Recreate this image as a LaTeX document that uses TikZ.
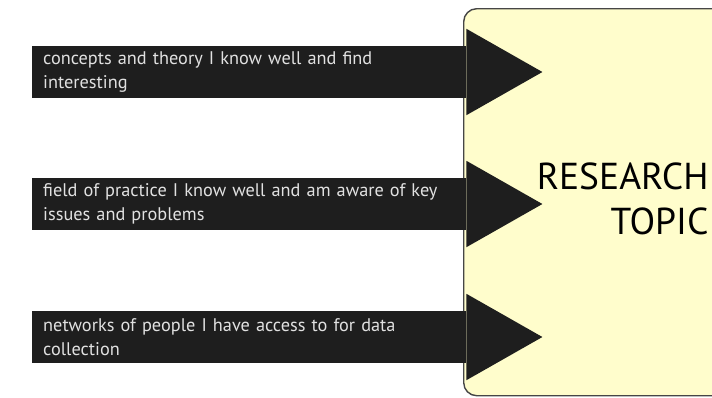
\documentclass[tikz,border=0pt]{standalone}
\usepackage{fontspec}
\setmainfont{PT Sans}
\usetikzlibrary{calc}
\definecolor{arrowgray}{RGB}{30,30,30}
\definecolor{labelgray}{RGB}{225,225,225}
\definecolor{topicfill}{RGB}{255,253,204}
\definecolor{topicline}{RGB}{70,70,70}
\begin{document}
\begin{tikzpicture}[x=1pt, y=1pt, line join = round]
\tikzset{
  sourcebox/.style = {fill=arrowgray, text=labelgray, anchor=west, align=left,
    text width=412pt, inner xsep=11pt, inner ysep=0pt, minimum height=52pt,
    font=\fontsize{18.3}{24.5}\selectfont},
  topicbox/.style  = {draw=topicline, fill=topicfill, line width=1.4pt,
    rounded corners=13pt, anchor=north west, minimum width=300pt,
    minimum height=387pt},
}
\useasboundingbox (0,0) rectangle (712,-397);

\node[topicbox] (topic) at (463,-8) {};
\node[anchor=east, align=right, font=\fontsize{37.5}{45}\selectfont] (title)
  at (712,-199) {RESEARCH\\TOPIC};

\node[sourcebox] (concepts) at (32,-72)
  {concepts and theory I know well and find\\interesting};
\node[sourcebox] (practice) at (32,-204)
  {field of practice I know well and am aware of key\\issues and problems};
\node[sourcebox] (networks) at (32,-337)
  {networks of people I have access to for data\\collection};

\foreach \i in {concepts, practice, networks}
    \fill [arrowgray] (\i.north east) -- ++(0,17) -- ($(\i.east)+(76,0)$)
      -- ($(\i.south east)+(0,-17)$) -- (\i.south east) -- cycle;

\end{tikzpicture}
\end{document}
